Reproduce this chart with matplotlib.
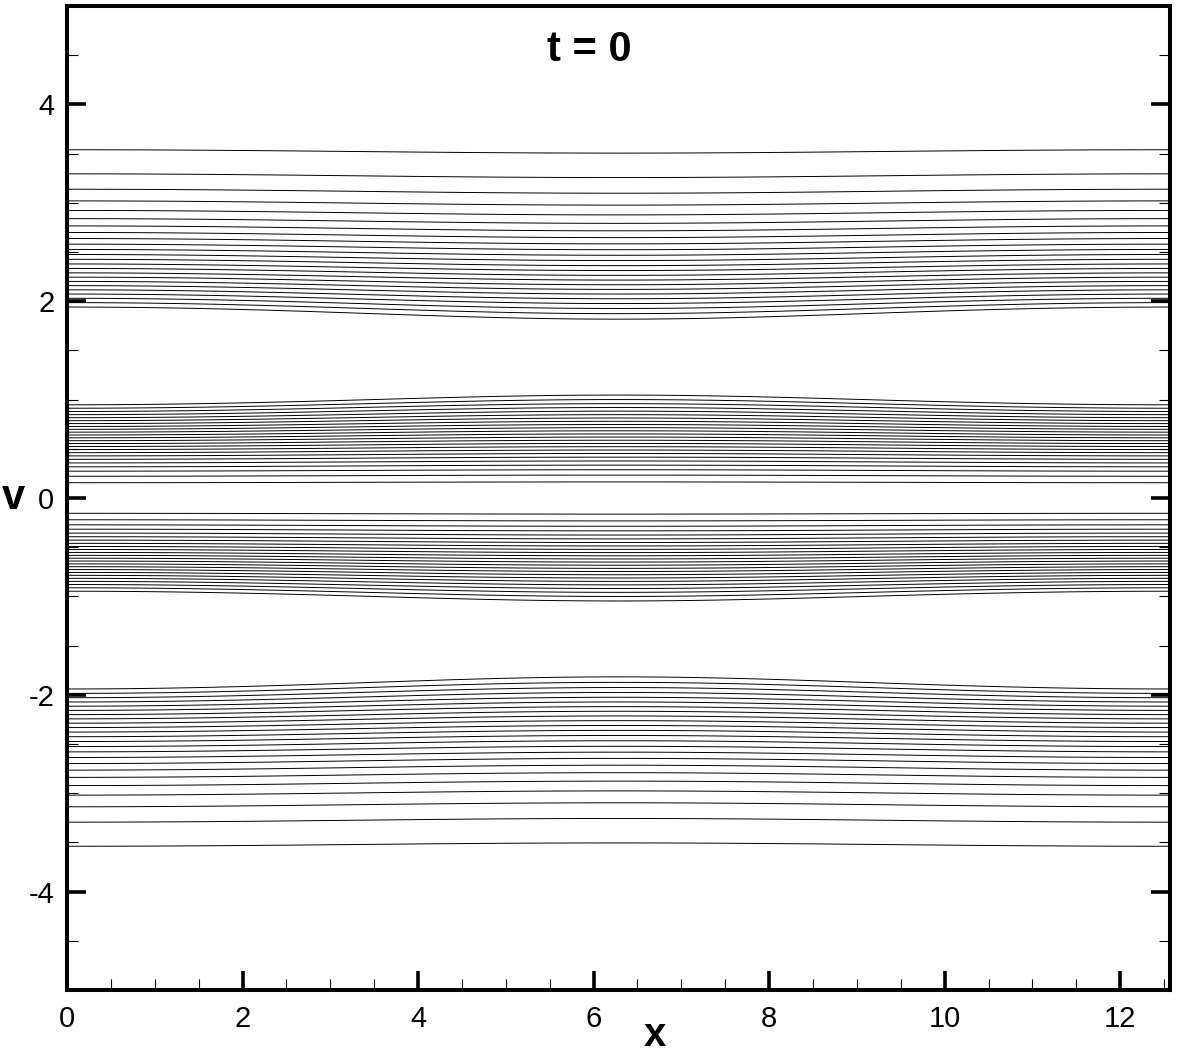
import numpy as np
import matplotlib
matplotlib.use("Agg")
import matplotlib.pyplot as plt
from matplotlib.ticker import MultipleLocator

# two-stream initial state f(x, v, 0) = v^2 exp(-v^2/2) / sqrt(2 pi) * (1 + alpha cos(k x))
ALPHA = 0.05
K = 0.5
X_MAX = 4 * np.pi
V_MAX = 5.0
LEVELS = [0.01, 0.02, 0.03, 0.04, 0.05, 0.06, 0.07, 0.08, 0.09, 0.10, 0.11, 0.12,
          0.13, 0.14, 0.15, 0.16, 0.17, 0.18, 0.19, 0.20, 0.21, 0.22, 0.23, 0.24]
X_TICKS = [0, 2, 4, 6, 8, 10, 12]
V_TICKS = [-4, -2, 0, 2, 4]
TITLE = "t = 0"

plt.rcParams.update({
    "font.family": ["Liberation Sans", "DejaVu Sans"],
    "axes.unicode_minus": False,
})

x = np.linspace(0, X_MAX, 801)
v = np.linspace(-V_MAX, V_MAX, 1201)
X, V = np.meshgrid(x, v)
F = V**2 * np.exp(-V**2 / 2) / np.sqrt(2 * np.pi) * (1 + ALPHA * np.cos(K * X))

W, H = 1177, 1056
fig = plt.figure(figsize=(W / 100, H / 100), dpi=100)
ax = fig.add_axes([0.0569, 0.0625, 0.994 - 0.0569, 0.9943 - 0.0625])

ax.contour(X, V, F, levels=LEVELS, colors="black", linewidths=0.7)

ax.set_xlim(0, X_MAX)
ax.set_ylim(-V_MAX, V_MAX)
ax.set_xticks(X_TICKS)
ax.set_yticks(V_TICKS)
ax.xaxis.set_minor_locator(MultipleLocator(0.5))
ax.yaxis.set_minor_locator(MultipleLocator(0.5))

ax.tick_params(which="major", direction="in", length=14, width=2.6,
               labelsize=21, top=False, right=True, pad=9)
ax.tick_params(which="minor", direction="in", length=8, width=0.8,
               top=False, right=True)
ax.tick_params(axis="x", which="major", pad=11)
for sp in ax.spines.values():
    sp.set_linewidth(2.9)

# axis titles placed like the Tecplot frame
fig.text(655 / W, 1 - 1046 / H, "x", ha="center", va="baseline",
         fontsize=29, fontweight="bold")
fig.text(13 / W, 1 - 509 / H, "v", ha="center", va="baseline",
         fontsize=30, fontweight="bold")
ax.text(0.474, 0.955, TITLE, transform=ax.transAxes, ha="center", va="center",
        fontsize=30, fontweight="bold")

fig.savefig("out.png", dpi=100)
